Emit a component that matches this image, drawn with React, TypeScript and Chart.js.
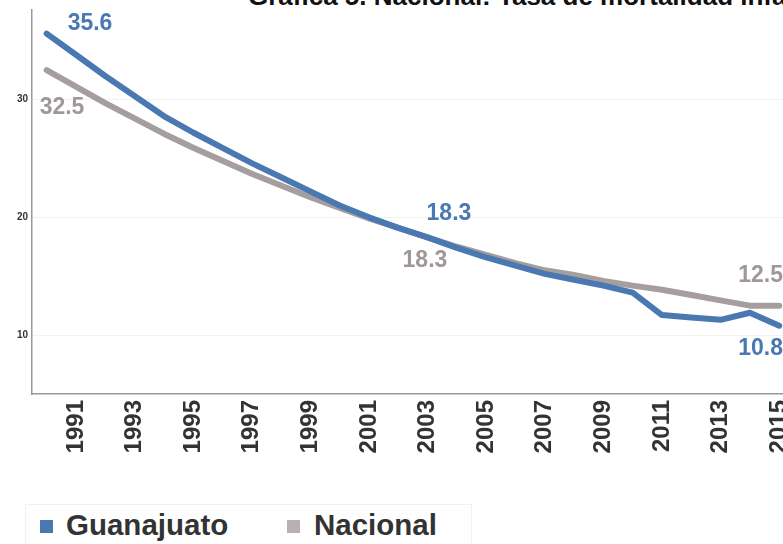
import React, { useEffect, useRef } from 'react';
import { Chart, registerables } from 'chart.js';

Chart.register(...registerables);

const years: string[] = [
  '1990', '1991', '1992', '1993', '1994', '1995', '1996', '1997', '1998', '1999',
  '2000', '2001', '2002', '2003', '2004', '2005', '2006', '2007', '2008', '2009',
  '2010', '2011', '2012', '2013', '2014', '2015',
];
const guanajuato: number[] = [
  35.6, 33.8, 32.0, 30.3, 28.6, 27.2, 25.9, 24.6, 23.4, 22.2,
  21.0, 20.0, 19.1, 18.3, 17.4, 16.6, 15.9, 15.2, 14.7, 14.2,
  13.6, 11.7, 11.5, 11.3, 11.9, 10.8,
];
const nacional: number[] = [
  32.5, 31.1, 29.7, 28.4, 27.1, 25.9, 24.8, 23.7, 22.7, 21.7,
  20.8, 19.9, 19.1, 18.3, 17.5, 16.8, 16.1, 15.5, 15.1, 14.6,
  14.2, 13.85, 13.4, 12.95, 12.5, 12.5,
];
const yTicks: number[] = [10, 20, 30];
const seriesNames: string[] = ['Guanajuato', 'Nacional'];
const labelledIdx: number[] = [0, 13, 25];

const BLUE = '#4A79B1';
const GRAY = '#A69E9E';
const FONT = '"Liberation Sans", Arial, sans-serif';

// label offsets (style): [dataset][labelled point] -> dx, dy
const labelOffsets = [
  [[21, -10], [-1, -24], [-41, 23]],
  [[-7, 38], [-25, 23], [-41, -30]],
];

const valueLabels = {
  id: 'valueLabels',
  afterDatasetsDraw(chart: any) {
    const ctx = chart.ctx;
    ctx.save();
    ctx.font = `bold 23px ${FONT}`;
    ctx.textAlign = 'left';
    ctx.textBaseline = 'middle';
    chart.data.datasets.forEach((ds: any, di: number) => {
      const meta = chart.getDatasetMeta(di);
      ctx.fillStyle = di === 0 ? BLUE : '#A09898';
      labelledIdx.forEach((idx, k) => {
        const pt = meta.data[idx];
        const [dx, dy] = labelOffsets[di][k];
        ctx.fillText(ds.data[idx].toFixed(1), pt.x + dx, pt.y + dy);
      });
    });
    ctx.restore();
  },
};

export default function App() {
  const ref = useRef<HTMLCanvasElement | null>(null);
  useEffect(() => {
    if (!ref.current) return;
    const chart = new Chart(ref.current, {
      type: 'line',
      data: {
        labels: years,
        datasets: [
          {
            label: seriesNames[0],
            data: guanajuato,
            borderColor: BLUE,
            backgroundColor: BLUE,
            borderWidth: 6,
            pointRadius: 0,
            tension: 0,
            borderCapStyle: 'round',
            borderJoinStyle: 'round',
            order: 0,
          },
          {
            label: seriesNames[1],
            data: nacional,
            borderColor: GRAY,
            backgroundColor: GRAY,
            borderWidth: 6,
            pointRadius: 0,
            tension: 0,
            borderCapStyle: 'round',
            borderJoinStyle: 'round',
            order: 1,
          },
        ],
      },
      options: {
        animation: false,
        responsive: false,
        layout: { padding: { top: 4, right: 0, bottom: 0, left: 0 } },
        plugins: {
          legend: { display: false },
          title: { display: false },
          tooltip: { enabled: false },
        },
        scales: {
          x: {
            offset: true,
            grid: { display: false, drawTicks: false },
            border: { display: true, color: '#9a9a9a', width: 1.5 },
            ticks: {
              autoSkip: false,
              maxRotation: 90,
              minRotation: 90,
              padding: 6,
              color: '#333333',
              font: { family: FONT, size: 24, weight: 'bold' },
              callback: (_v: any, i: number) => (Number(years[i]) % 2 === 1 ? years[i] : ''),
            },
            afterFit: (s: any) => { s.height = 66; },
          },
          y: {
            min: 5,
            max: 37.6,
            grid: { color: '#f2f2f2', drawTicks: false, lineWidth: 1 },
            border: { display: true, color: '#9a9a9a', width: 1.5 },
            ticks: {
              padding: 4,
              color: '#333333',
              font: { family: FONT, size: 10, weight: 'bold' },
            },
            afterBuildTicks: (s: any) => { s.ticks = yTicks.map((v) => ({ value: v })); },
            afterFit: (s: any) => { s.width = 32; },
          },
        },
      },
      plugins: [valueLabels],
    } as any);
    return () => chart.destroy();
  }, []);

  const legendText: React.CSSProperties = {
    position: 'absolute',
    top: 509,
    fontFamily: FONT,
    fontWeight: 'bold',
    fontSize: 29.5,
    lineHeight: '32px',
    color: '#333333',
    whiteSpace: 'nowrap',
  };

  return (
    <div style={{ position: 'fixed', left: 0, top: 0, width: 783, height: 544, overflow: 'hidden', background: '#fff' }}>
      <div
        style={{
          position: 'absolute',
          left: 248,
          top: -17,
          fontFamily: FONT,
          fontWeight: 'bold',
          fontSize: 26,
          lineHeight: '26px',
          color: '#111',
          whiteSpace: 'nowrap',
        }}
      >
        Gráfica 5. Nacional: Tasa de mortalidad infantil, 1990-2015
      </div>
      <canvas ref={ref} width={814} height={460} style={{ position: 'absolute', left: 0, top: 0, width: 814, height: 460 }} />
      <div style={{ position: 'absolute', left: 25, top: 504, width: 445, height: 50, border: '1px solid #f1f1f1' }} />
      <div style={{ position: 'absolute', left: 40, top: 520, width: 13, height: 13, background: BLUE }} />
      <div style={{ ...legendText, left: 66 }}>{seriesNames[0]}</div>
      <div style={{ position: 'absolute', left: 287, top: 520, width: 13, height: 13, background: '#B9B1B1' }} />
      <div style={{ ...legendText, left: 314 }}>{seriesNames[1]}</div>
    </div>
  );
}
